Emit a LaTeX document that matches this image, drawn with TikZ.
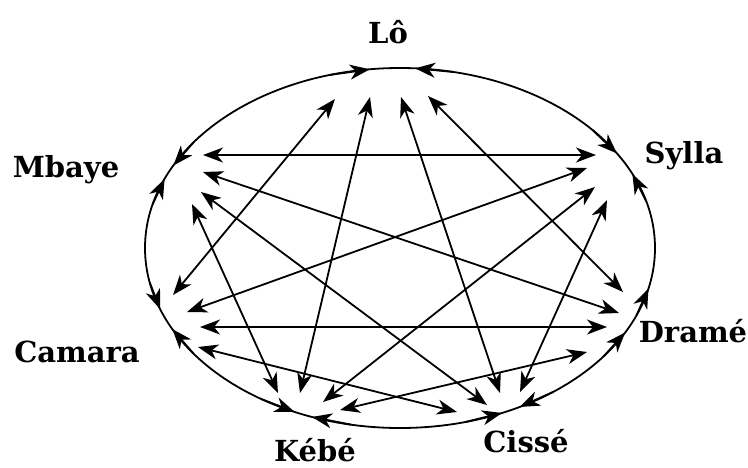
\documentclass[tikz,border=0pt]{standalone}
\usepackage{fontspec}
\setmainfont{DejaVu Serif}
\usetikzlibrary{arrows.meta}
\begin{document}
\begin{tikzpicture}[x=1pt,y=-1pt,
  lbl/.style={font=\bfseries\fontsize{29}{31}\selectfont, anchor=base, inner sep=0pt},
  tip/.tip={Stealth[length=20pt,width=15pt,inset=6pt]},
  edge/.style={line width=1.8pt, tip-tip},
  ring/.style={line width=1.8pt},
  ringtip/.style={line width=1.8pt, -tip}]
\useasboundingbox (0,0) rectangle (748,467);

% labels
\node[lbl] (lo)  at (388,43)  {Lô};
\node[lbl] (mb)  at (66,177)  {Mbaye};
\node[lbl] (sy)  at (684,163) {Sylla};
\node[lbl] (cm)  at (77,362)  {Camara};
\node[lbl] (dr)  at (693,342) {Dramé};
\node[lbl] (kb)  at (315,461) {Kébé};
\node[lbl] (cs)  at (526,452) {Cissé};

% outer ellipse
\coordinate (ctr) at (400,248);
\draw[ring] (ctr) ellipse [x radius=255pt, y radius=180pt];

% arrowheads on the ellipse
\foreach \i/\s/\t in {1/254/263.2, 2/282/273.4, 3/216/207.3, 4/194/202.6,
                      5/169/160.1, 6/144/153.2, 7/123/114.4, 8/101/110.2,
                      9/75/66.4, 10/53/62, 11/37/28, 12/22/13,
                      13/345/335.7, 14/319/328.3} {
  \coordinate (rs\i) at ({400+255*cos(\s)},{248+180*sin(\s)});
  \coordinate (rt\i) at ({400+255*cos(\t)},{248+180*sin(\t)});
  \draw[ringtip] (rs\i) -- (rt\i);
}

% chord end points
\coordinate (mb-sy) at (203,155);  \coordinate (sy-mb) at (596,155);
\coordinate (mb-dr) at (203,172);  \coordinate (dr-mb) at (619,313);
\coordinate (mb-cs) at (201,192);  \coordinate (cs-mb) at (487,405);
\coordinate (mb-kb) at (192,204);  \coordinate (kb-mb) at (278,393);
\coordinate (lo-cm) at (335,99);   \coordinate (cm-lo) at (173,295);
\coordinate (lo-kb) at (370,97);   \coordinate (kb-lo) at (300,393);
\coordinate (lo-cs) at (401,97);   \coordinate (cs-lo) at (500,393);
\coordinate (lo-dr) at (428,96);   \coordinate (dr-lo) at (623,292);
\coordinate (sy-cm) at (587,168);  \coordinate (cm-sy) at (187,312);
\coordinate (sy-kb) at (595,187);  \coordinate (kb-sy) at (323,402);
\coordinate (sy-cs) at (607,200);  \coordinate (cs-sy) at (520,392);
\coordinate (cm-dr) at (200,327);  \coordinate (dr-cm) at (607,327);
\coordinate (cm-cs) at (198,347);  \coordinate (cs-cm) at (457,412);
\coordinate (kb-dr) at (340,410);  \coordinate (dr-kb) at (587,352);

% chords
\draw[edge] (mb-sy) -- (sy-mb);
\draw[edge] (mb-dr) -- (dr-mb);
\draw[edge] (mb-cs) -- (cs-mb);
\draw[edge] (mb-kb) -- (kb-mb);
\draw[edge] (lo-cm) -- (cm-lo);
\draw[edge] (lo-kb) -- (kb-lo);
\draw[edge] (lo-cs) -- (cs-lo);
\draw[edge] (lo-dr) -- (dr-lo);
\draw[edge] (sy-cm) -- (cm-sy);
\draw[edge] (sy-kb) -- (kb-sy);
\draw[edge] (sy-cs) -- (cs-sy);
\draw[edge] (cm-dr) -- (dr-cm);
\draw[edge] (cm-cs) -- (cs-cm);
\draw[edge] (kb-dr) -- (dr-kb);
\end{tikzpicture}
\end{document}
